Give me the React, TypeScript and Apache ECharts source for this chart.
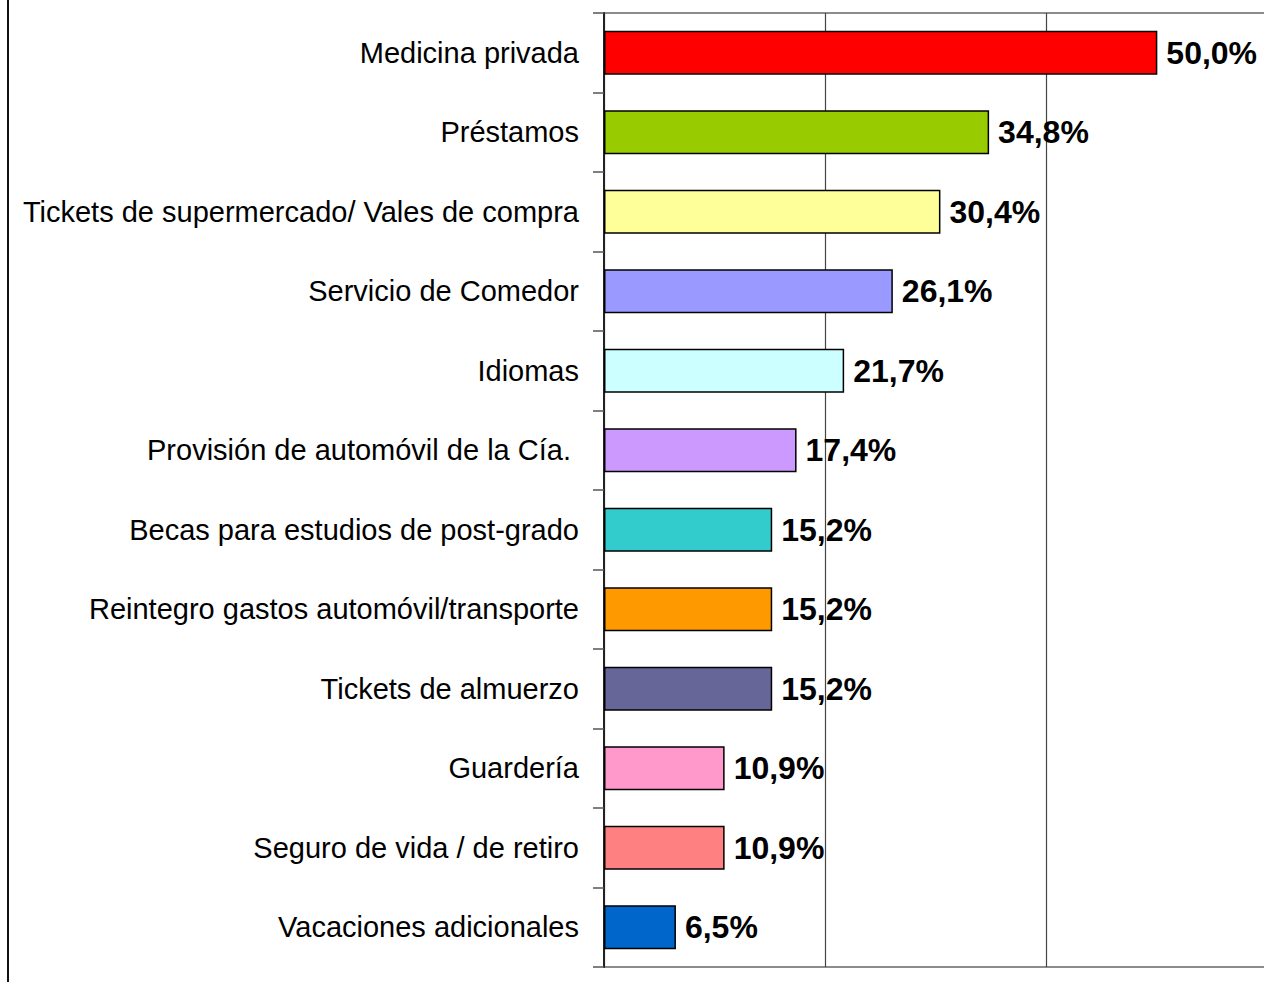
import React, { useEffect, useRef } from "react";
import * as echarts from "echarts";

const categories = [
  "Medicina privada",
  "Préstamos",
  "Tickets de supermercado/ Vales de compra",
  "Servicio de Comedor",
  "Idiomas",
  "Provisión de automóvil de la Cía. ",
  "Becas para estudios de post-grado",
  "Reintegro gastos automóvil/transporte",
  "Tickets de almuerzo",
  "Guardería",
  "Seguro de vida / de retiro",
  "Vacaciones adicionales",
];

const values = [50.0, 34.8, 30.4, 26.1, 21.7, 17.4, 15.2, 15.2, 15.2, 10.9, 10.9, 6.5];

const colors = [
  "#FF0000",
  "#99CC00",
  "#FFFF99",
  "#9999FF",
  "#CCFFFF",
  "#CC99FF",
  "#33CCCC",
  "#FF9900",
  "#666699",
  "#FF99CC",
  "#FF8080",
  "#0066CC",
];

export default function App() {
  const ref = useRef<HTMLDivElement>(null);
  useEffect(() => {
    if (!ref.current) return;
    const chart = echarts.init(ref.current, null, { renderer: "svg" });
    chart.setOption({
      animation: false,
      backgroundColor: "#ffffff",
      grid: {
        left: 604,
        right: 4,
        top: 13,
        bottom: 15,
        show: true,
        borderColor: "#8c8c8c",
        borderWidth: 2,
        backgroundColor: "transparent",
      },
      xAxis: {
        type: "value",
        min: 0,
        max: 60,
        interval: 20,
        axisLabel: { show: false },
        axisLine: { show: false },
        axisTick: { show: false },
        splitLine: { show: true, lineStyle: { color: "#444444", width: 1.2 } },
      },
      yAxis: {
        type: "category",
        inverse: true,
        data: categories,
        axisLine: { show: true, lineStyle: { color: "#222222", width: 2 } },
        axisTick: { show: true, length: 11, lineStyle: { color: "#555555", width: 1.5 } },
        axisLabel: {
          margin: 25,
          fontFamily: "Liberation Sans, Arial, sans-serif",
          fontSize: 29,
          color: "#000000",
        },
      },
      series: [
        {
          type: "bar",
          data: values.map((v, i) => ({
            value: v,
            itemStyle: { color: colors[i] },
          })),
          barWidth: 44,
          itemStyle: { borderColor: "#000000", borderWidth: 1.5 },
          label: {
            show: true,
            position: "right",
            distance: 9,
            fontFamily: "Liberation Sans, Arial, sans-serif",
            fontSize: 32,
            fontWeight: "bold",
            color: "#000000",
            formatter: (p: any) => p.value.toFixed(1).replace(".", ",") + "%",
          },
        },
      ],
      graphic: [
        {
          type: "line",
          shape: { x1: 8, y1: 0, x2: 8, y2: 982 },
          style: { stroke: "#111111", lineWidth: 2 },
        },
      ],
    });
    return () => chart.dispose();
  }, []);
  return (
    <div
      style={{
        position: "fixed",
        left: 0,
        top: 0,
        width: 1264,
        height: 982,
        overflow: "hidden",
        background: "#ffffff",
      }}
    >
      <div ref={ref} style={{ width: 1272, height: 982 }} />
    </div>
  );
}
